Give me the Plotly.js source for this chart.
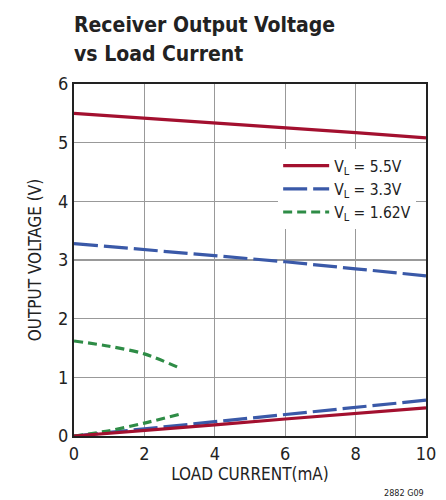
<!DOCTYPE html>
<html>
<head>
<meta charset="utf-8">
<script src="https://cdn.plot.ly/plotly-3.0.1.min.js"></script>
<style>
html,body{margin:0;padding:0;background:#fff;}
#chart{width:446px;height:500px;}
</style>
</head>
<body>
<div id="chart"></div>
<script>
// Data
var xFull = [0, 2, 4, 6, 8, 10];
var xShort = [0, 1, 2, 3];

var red55High = [5.50, 5.42, 5.34, 5.25, 5.17, 5.08];
var red55Low  = [0, 0.09, 0.19, 0.29, 0.39, 0.48];

var blue33High = [3.28, 3.18, 3.08, 2.97, 2.85, 2.73];
var blue33Low  = [0, 0.12, 0.24, 0.36, 0.48, 0.61];

var green162High = [1.62, 1.53, 1.40, 1.16];
var green162Low  = [0, 0.09, 0.22, 0.37];

var legendNames = ['V<sub>L</sub> = 5.5V', 'V<sub>L</sub> = 3.3V', 'V<sub>L</sub> = 1.62V'];
var xTicks = [0, 2, 4, 6, 8, 10];
var yTicks = [0, 1, 2, 3, 4, 5, 6];

var RED = '#A3102F', BLUE = '#3A59A8', GREEN = '#2E8C46';
var FONT = 'DejaVu Sans Condensed, Liberation Sans Narrow, sans-serif';

var traces = [
  {x: xFull, y: red55High, mode: 'lines', name: legendNames[0], legendgroup: 'r', showlegend: true,
   line: {color: RED, width: 3.2}},
  {x: xFull, y: blue33High, mode: 'lines', name: legendNames[1], legendgroup: 'b', showlegend: true,
   line: {color: BLUE, width: 3.2, dash: '24px,6px'}},
  {x: xShort, y: green162High, mode: 'lines', name: legendNames[2], legendgroup: 'g', showlegend: true,
   line: {color: GREEN, width: 3.2, dash: '9px,5px', shape: 'spline', smoothing: 0.8}},
  {x: xFull, y: blue33Low, mode: 'lines', name: legendNames[1], legendgroup: 'b', showlegend: false,
   line: {color: BLUE, width: 3.2, dash: '24px,6px'}},
  {x: xShort, y: green162Low, mode: 'lines', name: legendNames[2], legendgroup: 'g', showlegend: false,
   line: {color: GREEN, width: 3.2, dash: '9px,5px', shape: 'spline', smoothing: 0.8}},
  {x: xFull, y: red55Low, mode: 'lines', name: legendNames[0], legendgroup: 'r', showlegend: false,
   line: {color: RED, width: 3.2}}
];

var layout = {
  width: 446, height: 500,
  margin: {l: 74, r: 20, t: 84, b: 64},
  paper_bgcolor: '#fff', plot_bgcolor: '#fff',
  font: {family: FONT, color: '#222', size: 17},
  showlegend: true,
  legend: {
    x: 0.58, y: 0.815, xanchor: 'left', yanchor: 'top',
    bgcolor: '#fff', borderwidth: 0,
    font: {family: FONT, size: 15.5, color: '#222'},
    tracegroupgap: 0, itemwidth: 46
  },
  xaxis: {
    range: [0, 10], tickvals: xTicks, ticktext: xTicks.map(String),
    showgrid: true, gridcolor: '#999', gridwidth: 1.2,
    zeroline: false, showline: true, linecolor: '#222', linewidth: 2, mirror: true,
    ticks: '', tickfont: {family: FONT, size: 18, color: '#222'},
    title: {text: 'LOAD CURRENT(mA)', font: {family: FONT, size: 17, color: '#222'}, standoff: 6},
    fixedrange: true
  },
  yaxis: {
    range: [0, 6], tickvals: yTicks, ticktext: yTicks.map(String),
    showgrid: true, gridcolor: '#999', gridwidth: 1.2,
    zeroline: false, showline: true, linecolor: '#222', linewidth: 2, mirror: true,
    ticks: '', tickfont: {family: FONT, size: 18, color: '#222'},
    title: {text: 'OUTPUT VOLTAGE (V)', font: {family: FONT, size: 17, color: '#222'}, standoff: 12},
    fixedrange: true
  },
  annotations: [
    {text: '<b>Receiver Output Voltage</b>', xref: 'paper', yref: 'paper', x: 0, y: 1, xanchor: 'left', yanchor: 'bottom',
     yshift: 45, xshift: -2, showarrow: false, font: {family: FONT, size: 21, color: '#222'}},
    {text: '<b>vs Load Current</b>', xref: 'paper', yref: 'paper', x: 0, y: 1, xanchor: 'left', yanchor: 'bottom',
     yshift: 16, xshift: -2, showarrow: false, font: {family: FONT, size: 21, color: '#222'}},
    {text: '2882 G09', xref: 'paper', yref: 'paper', x: 1, y: 0, xanchor: 'right', yanchor: 'top',
     yshift: -50, showarrow: false, font: {family: FONT, size: 9, color: '#222'}}
  ]
};

Plotly.newPlot('chart', traces, layout, {displayModeBar: false, staticPlot: true});
</script>
</body>
</html>
